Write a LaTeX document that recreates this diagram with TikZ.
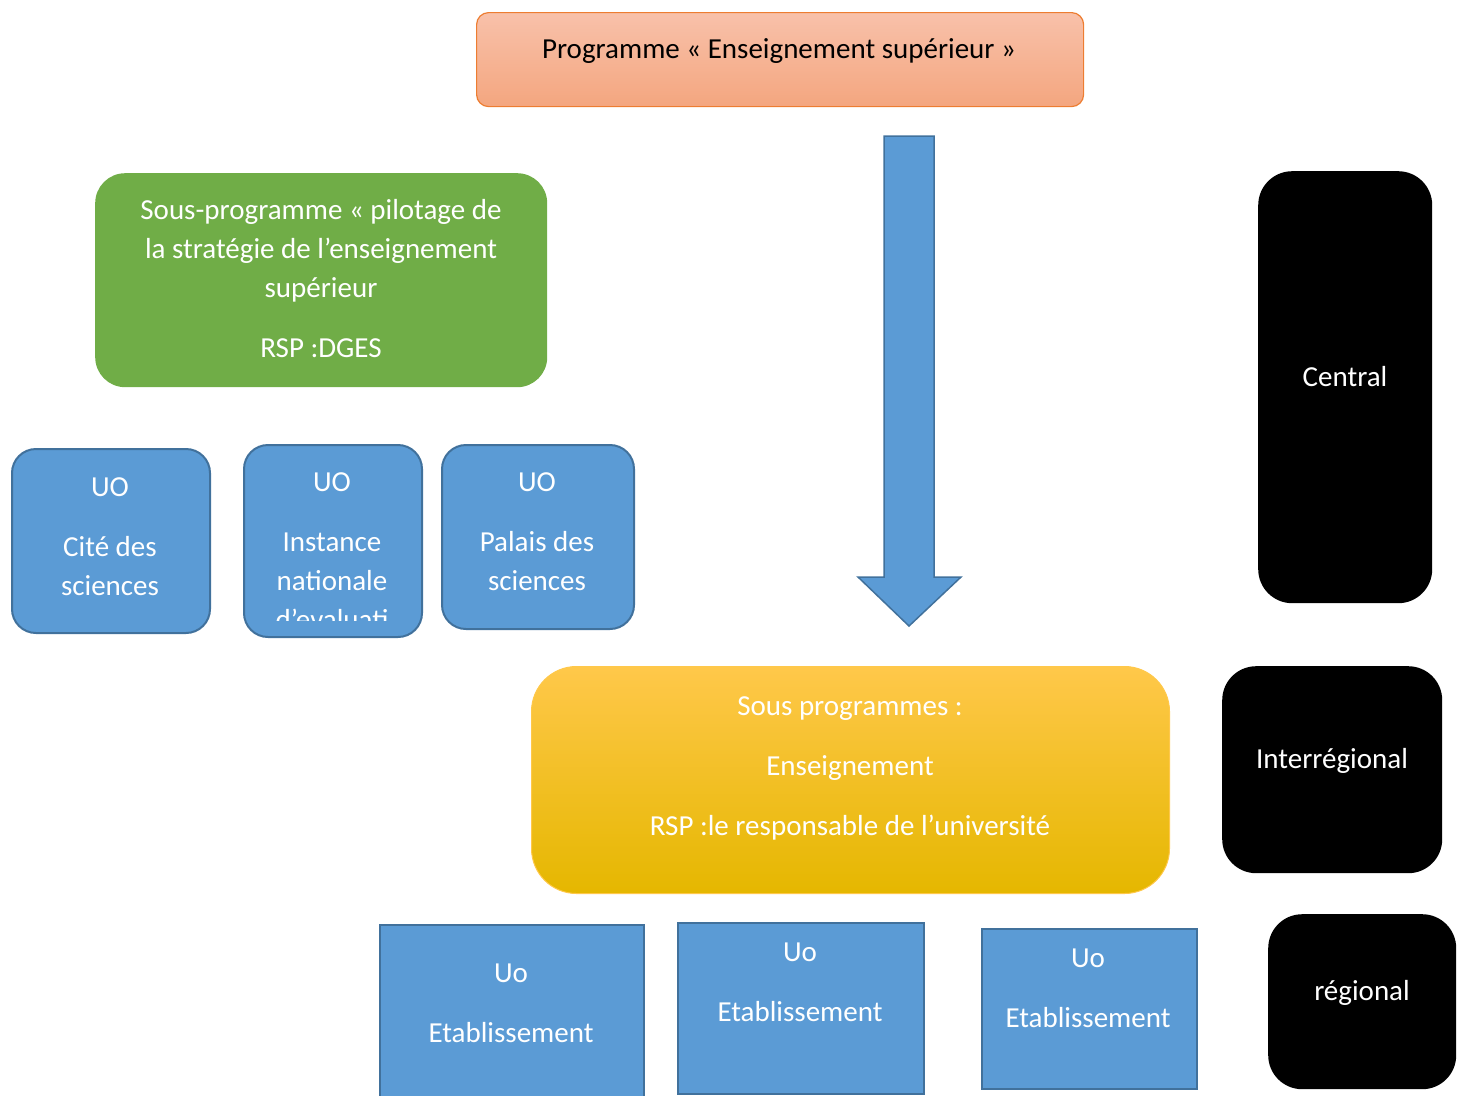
\documentclass[tikz,border=0pt]{standalone}
\usepackage{fontspec}
\setmainfont{Carlito}
\usepackage{tikz}
\usetikzlibrary{positioning}
\definecolor{uoblue}{HTML}{5B9BD5}
\definecolor{uoline}{HTML}{41719C}
\definecolor{pilotgreen}{HTML}{70AD47}
\definecolor{progline}{HTML}{ED7D31}
\definecolor{progtop}{HTML}{F8C1AA}
\definecolor{progbot}{HTML}{F4A67F}
\definecolor{spgtop}{HTML}{FFC84A}
\definecolor{spgmid}{HTML}{FFC000}
\definecolor{spgbot}{HTML}{E5B700}
\tikzset{
  blk/.style={rectangle,anchor=north west,inner sep=0pt},
  uobox/.style={blk,fill=uoblue,draw=uoline,line width=2pt,rounded corners=24pt},
  etabbox/.style={blk,fill=uoblue,draw=uoline,line width=2pt},
  levelbox/.style={blk,fill=black,rounded corners=34pt},
  lbl/.style={font=\fontsize{29}{39}\selectfont,align=center,inner sep=0pt,anchor=base,text=white}
}
\begin{document}
\begin{tikzpicture}[x=1pt,y=-1pt]
\useasboundingbox (0,0) rectangle (1458,1095);
% programme
\node[blk,draw=progline,line width=1.2pt,rounded corners=12pt,top color=progtop,bottom color=progbot,minimum width=607pt,minimum height=94pt] (prog) at (476,12) {};
\node[lbl,text=black] (progt) at (779,58) {Programme « Enseignement supérieur »};
% fleche
\draw[fill=uoblue,draw=uoline,line width=1.5pt] (884,136) -- (934,136) -- (934,577) -- (961,577) -- (909,626) -- (858,577) -- (884,577) -- cycle;
% sous-programme pilotage
\node[blk,fill=pilotgreen,rounded corners=30pt,minimum width=452pt,minimum height=214pt] (pilot) at (95,173) {};
\node[lbl] (pilott) at (321,357) {Sous-programme « pilotage de\\la stratégie de l’enseignement\\supérieur\\[21pt]RSP :DGES};
% UO
\node[uobox,minimum width=198pt,minimum height=184pt] (uoa) at (11,448) {};
\node[lbl] (uoat) at (110,595) {UO\\[21pt]Cité des\\sciences};
\node[uobox,minimum width=178pt,minimum height=192pt] (uob) at (243,444) {};
\begin{scope}
  \clip (244,445) rectangle (420,620);
  \node[lbl] (uobt) at (332,629) {UO\\[21pt]Instance\\nationale\\d’evaluati};
\end{scope}
\node[uobox,minimum width=192pt,minimum height=184pt] (uoc) at (441,444) {};
\node[lbl] (uoct) at (537,590) {UO\\[21pt]Palais des\\sciences};
% sous-programmes enseignement
\node[blk,draw=spgtop,line width=1pt,rounded corners=45pt,top color=spgtop,middle color=spgmid,bottom color=spgbot,minimum width=638pt,minimum height=227pt] (ens) at (531,666) {};
\node[lbl] (enst) at (850,835) {Sous programmes :\\[21pt]Enseignement\\[21pt]RSP :le responsable de l’université};
% etablissements
\node[etabbox,minimum width=264pt,minimum height=180pt] (eta) at (379,924) {};
\node[lbl] (etat) at (511,1042) {Uo\\[21pt]Etablissement};
\node[etabbox,minimum width=246pt,minimum height=171pt] (etb) at (677,922) {};
\node[lbl] (etbt) at (800,1021) {Uo\\[21pt]Etablissement};
\node[etabbox,minimum width=215pt,minimum height=160pt] (etc) at (981,928) {};
\node[lbl] (etct) at (1088,1027) {Uo\\[21pt]Etablissement};
% niveaux
\node[levelbox,minimum width=174pt,minimum height=432pt] (central) at (1258,171) {};
\node[lbl] (centralt) at (1345,386) {Central};
\node[levelbox,minimum width=220pt,minimum height=207pt] (interreg) at (1222,666) {};
\node[lbl] (interregt) at (1332,768) {Interrégional};
\node[levelbox,minimum width=188pt,minimum height=175pt] (reg) at (1268,914) {};
\node[lbl] (regt) at (1362,1000) {régional};
\end{tikzpicture}
\end{document}
